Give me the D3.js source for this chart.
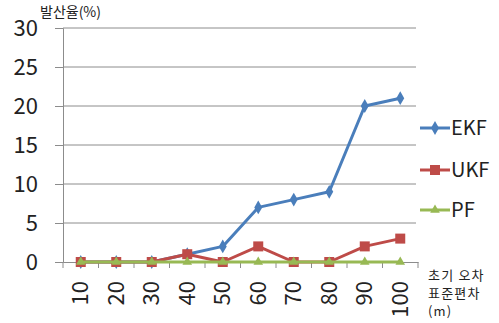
<!DOCTYPE html>
<html><head><meta charset="utf-8">
<script src="https://cdn.jsdelivr.net/npm/d3@7"></script>
<style>body{margin:0;background:#fff}svg{display:block}</style>
</head><body>
<svg id="c" width="499" height="323"></svg>
<script>
const categories = ["10","20","30","40","50","60","70","80","90","100"];
const ekf = [0,0,0,1,2,7,8,9,20,21];
const ukf = [0,0,0,1,0,2,0,0,2,3];
const pf  = [0,0,0,0,0,0,0,0,0,0];
const yTicks = [0,5,10,15,20,25,30];
const seriesNames = ["EKF","UKF","PF"];
const colors = ["#4a7ebb","#be4b48","#98b954"];
const font = "'Malgun Gothic','Noto Sans CJK KR',sans-serif";

const svg = d3.select("#c");
const x = d3.scaleBand().domain(categories).range([63,418]);
const y = d3.scaleLinear().domain([0,30]).range([262,28]);

// gridlines
svg.append("g").selectAll("line").data(yTicks.filter(d=>d>0)).join("line")
  .attr("x1",63).attr("x2",416).attr("y1",d=>y(d)).attr("y2",d=>y(d))
  .attr("stroke","#8c8c8c").attr("stroke-width",1);

// y axis
const ya = svg.append("g").attr("transform","translate(63,0)")
  .call(d3.axisLeft(y).tickValues(yTicks).tickSize(8).tickPadding(17));
ya.select(".domain").attr("stroke","#8c8c8c");
ya.selectAll(".tick line").attr("stroke","#8c8c8c");
ya.selectAll("text").attr("font-family",font).attr("font-size",22).attr("fill","#222");

// x axis
const xa = svg.append("g").attr("transform","translate(0,262)")
  .call(d3.axisBottom(x).tickSize(0).tickSizeOuter(0));
xa.select(".domain").attr("stroke","#8c8c8c");
xa.selectAll(".tick text")
  .attr("font-family",font).attr("font-size",22).attr("fill","#222")
  .attr("transform","rotate(-90)").attr("text-anchor","end")
  .attr("x",-19).attr("y",0).attr("dy","0.35em");
// boundary ticks
svg.append("g").selectAll("line").data(categories.concat(["end"])).join("line")
  .attr("x1",(d,i)=> i<categories.length ? x(d) : x.range()[1])
  .attr("x2",(d,i)=> i<categories.length ? x(d) : x.range()[1])
  .attr("y1",262).attr("y2",268).attr("stroke","#8c8c8c");

const allSeries = [ekf, ukf, pf];
const line = d3.line().x((d,i)=>x(categories[i])+x.bandwidth()/2).y(d=>y(d));

function marker(g, k, cx, cy, color){
  if(k===0){
    g.append("path").attr("d",d3.symbol(d3.symbolDiamond,55)()).attr("transform",`translate(${cx},${cy})`).attr("fill",color);
  } else if(k===1){
    g.append("rect").attr("x",cx-5).attr("y",cy-5).attr("width",10).attr("height",10).attr("fill",color);
  } else {
    g.append("path").attr("d",d3.symbol(d3.symbolTriangle,40)()).attr("transform",`translate(${cx},${cy})`).attr("fill",color);
  }
}

allSeries.forEach((s,k)=>{
  const g = svg.append("g");
  g.append("path").datum(s).attr("d",line).attr("fill","none")
    .attr("stroke",colors[k]).attr("stroke-width",3).attr("stroke-linejoin","round");
  s.forEach((v,i)=>marker(g,k,x(categories[i])+x.bandwidth()/2,y(v),colors[k]));
});

// legend
const legY = [128,170,210];
seriesNames.forEach((n,k)=>{
  const g = svg.append("g");
  g.append("line").attr("x1",420).attr("x2",450).attr("y1",legY[k]).attr("y2",legY[k])
    .attr("stroke",colors[k]).attr("stroke-width",3);
  marker(g,k,435,legY[k],colors[k]);
  g.append("text").attr("x",451).attr("y",legY[k]).attr("dy","0.36em")
    .attr("font-family",font).attr("font-size",20).attr("fill","#222").text(n);
});

// titles
svg.append("text").attr("x",40).attr("y",17).attr("font-family",font).attr("font-size",14).attr("fill","#222").text("발산율(%)");
const xt = ["초기 오차","표준편차","(m)"];
svg.append("g").selectAll("text").data(xt).join("text")
  .attr("x",428).attr("y",(d,i)=>[280,298,316][i])
  .attr("font-family",font).attr("font-size",13).attr("letter-spacing",1.2).attr("fill","#222").text(d=>d);
</script>
</body></html>
